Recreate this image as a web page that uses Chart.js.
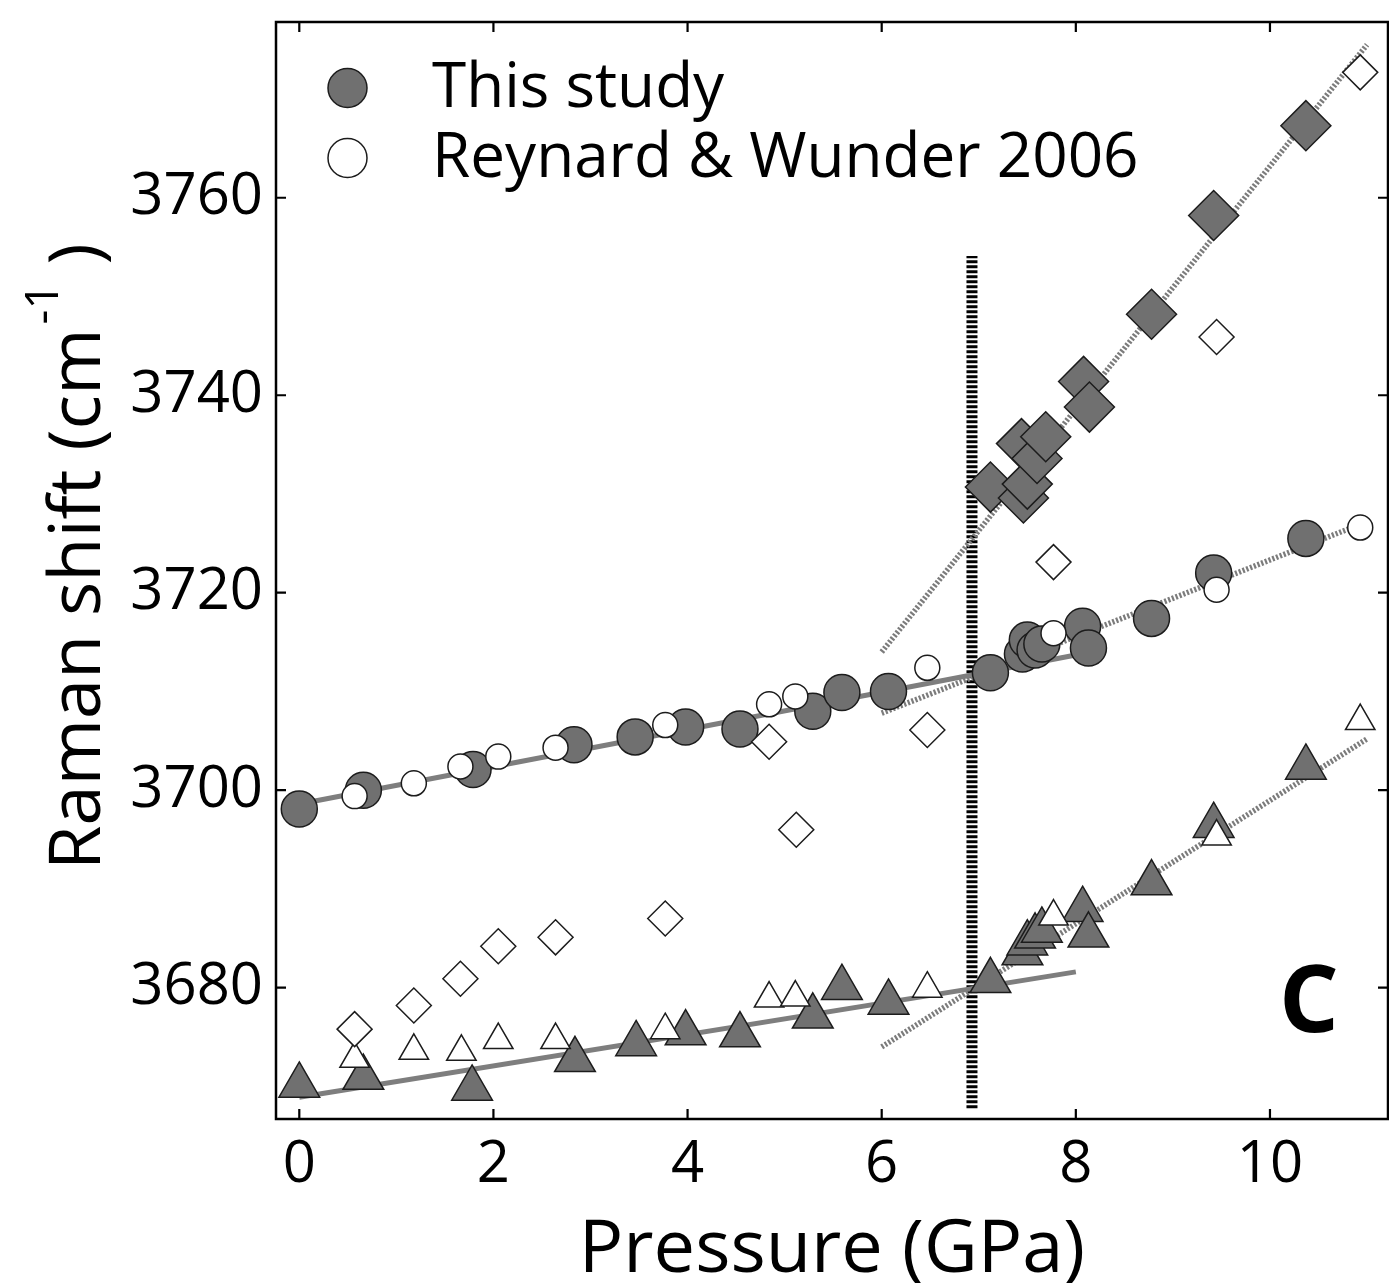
<!DOCTYPE html>
<html>
<head>
<meta charset="utf-8">
<script src="https://cdn.jsdelivr.net/npm/chart.js@4.4.1/dist/chart.umd.min.js"></script>
<style>
  html, body { margin: 0; padding: 0; background: #fff; }
  #wrap { width: 1389px; height: 1283px; }
</style>
</head>
<body>
<div id="wrap"><canvas id="chart" width="1389" height="1283"></canvas></div>
<script>
// axis ticks
const xTicks = [0, 2, 4, 6, 8, 10];
const yTicks = [3680, 3700, 3720, 3740, 3760];

// this study (filled symbols)
const studyCircP = [0.00, 0.66, 1.79, 2.83, 3.46, 3.98, 4.54, 5.29, 5.59, 6.07, 7.12, 7.45, 7.50, 7.58, 7.65, 8.07, 8.13, 8.78, 9.42, 10.37];
const studyCircV = [3698.1, 3700.0, 3702.1, 3704.6, 3705.4, 3706.4, 3706.2, 3708.0, 3709.9, 3710.0, 3711.9, 3713.8, 3715.2, 3714.2, 3714.8, 3716.6, 3714.4, 3717.4, 3722.0, 3725.5];
const studyDiamP = [7.12, 7.44, 7.46, 7.50, 7.60, 7.69, 8.08, 8.14, 8.78, 9.42, 10.37];
const studyDiamV = [3730.7, 3735.1, 3729.6, 3731.0, 3733.6, 3735.8, 3741.4, 3738.8, 3748.2, 3758.2, 3767.3];
const studyTriP = [0.00, 0.66, 1.78, 2.84, 3.47, 3.98, 4.54, 5.29, 5.59, 6.07, 7.12, 7.45, 7.50, 7.58, 7.65, 8.07, 8.13, 8.78, 9.42, 10.37];
const studyTriV = [3670.1, 3670.9, 3669.8, 3672.7, 3674.3, 3675.4, 3675.2, 3677.1, 3680.0, 3678.5, 3680.7, 3683.5, 3684.5, 3685.2, 3685.8, 3687.9, 3685.3, 3690.6, 3696.4, 3702.3];

// Reynard & Wunder 2006 (open symbols)
const rwCircP = [0.57, 1.18, 1.66, 2.05, 2.64, 3.77, 4.84, 5.11, 6.47, 7.77, 9.45, 10.93];
const rwCircV = [3699.4, 3700.7, 3702.4, 3703.4, 3704.3, 3706.6, 3708.7, 3709.5, 3712.4, 3715.9, 3720.3, 3726.6];
const rwDiamP = [0.57, 1.18, 1.66, 2.05, 2.64, 3.77, 4.84, 5.12, 6.47, 7.77, 9.45, 10.93];
const rwDiamV = [3675.8, 3678.2, 3680.9, 3684.2, 3685.1, 3687.0, 3704.9, 3696.0, 3706.1, 3723.1, 3745.9, 3772.7];
const rwTriP = [0.57, 1.18, 1.67, 2.05, 2.64, 3.77, 4.84, 5.11, 6.47, 7.77, 9.45, 10.93];
const rwTriV = [3672.8, 3673.6, 3673.5, 3674.7, 3674.7, 3675.7, 3678.9, 3679.0, 3679.9, 3687.2, 3695.3, 3707.0];

// fitted lines (end points)
const fitCircLowP = [0, 8],  fitCircLowV = [3698.6, 3713.7];
const fitCircHighP = [6, 11], fitCircHighV = [3707.8, 3727.2];
const fitDiamHighP = [6, 11], fitDiamHighV = [3714.0, 3775.5];
const fitTriLowP = [0, 8],   fitTriLowV = [3668.9, 3681.6];
const fitTriHighP = [6, 11], fitTriHighV = [3674.0, 3705.2];

// transition pressure marker
const transP = [6.93, 6.93], transV = [3667.8, 3754.1];

const legendLabels = ['This study', 'Reynard & Wunder 2006'];
const panelLabel = 'C';

const FILL = '#707070';
const EDGE = '#1c1c1c';
const LINE = '#7e7e7e';
const FONT = "'Open Sans', 'Noto Sans', sans-serif";

const pts = (xs, ys) => xs.map((x, i) => ({ x, y: ys[i] }));

function marks(label, xs, ys, style, r, filled) {
  return {
    label, data: pts(xs, ys), showLine: false,
    pointStyle: style, pointRadius: r, pointHoverRadius: r,
    pointBackgroundColor: filled ? FILL : '#ffffff',
    pointBorderColor: EDGE, pointBorderWidth: 1.5,
    order: filled ? 1 : 0,
  };
}

function fit(xs, ys, dotted) {
  return {
    data: pts(xs, ys), showLine: true, pointRadius: 0, pointHoverRadius: 0,
    borderColor: dotted ? '#7c7c7c' : LINE, borderWidth: dotted ? 5.5 : 5,
    borderDash: dotted ? [2.2, 1.8] : [], borderCapStyle: 'butt',
    order: 2,
  };
}

function noPad(s) {
  s.paddingTop = 0; s.paddingBottom = 0; s.paddingLeft = 0; s.paddingRight = 0;
}

const frame = {
  id: 'frame',
  afterDatasetsDraw(chart) {
    const { ctx, chartArea: a, scales: { x, y } } = chart;
    ctx.save();
    ctx.strokeStyle = '#000';
    ctx.lineWidth = 2.5;
    ctx.strokeRect(a.left, a.top, a.right - a.left, a.bottom - a.top);
    ctx.lineWidth = 2.2;
    ctx.beginPath();
    xTicks.forEach(v => {
      const px = x.getPixelForValue(v);
      ctx.moveTo(px, a.bottom); ctx.lineTo(px, a.bottom - 10);
      ctx.moveTo(px, a.top); ctx.lineTo(px, a.top + 10);
    });
    yTicks.forEach(v => {
      const py = y.getPixelForValue(v);
      ctx.moveTo(a.left, py); ctx.lineTo(a.left + 10, py);
      ctx.moveTo(a.right, py); ctx.lineTo(a.right - 10, py);
    });
    ctx.stroke();

    // legend (inside, top left)
    ctx.lineWidth = 1.5;
    ctx.strokeStyle = EDGE;
    [[88, FILL], [158, '#ffffff']].forEach(([cy, col]) => {
      ctx.beginPath();
      ctx.arc(a.left + 71.5, cy, 19.5, 0, Math.PI * 2);
      ctx.fillStyle = col; ctx.fill(); ctx.stroke();
    });
    ctx.fillStyle = '#000';
    ctx.font = `62px ${FONT}`;
    ctx.textAlign = 'left';
    ctx.textBaseline = 'alphabetic';
    ctx.fillText(legendLabels[0], a.left + 156, 107);
    ctx.fillText(legendLabels[1], a.left + 156, 177);

    // panel letter
    ctx.font = `bold 94px ${FONT}`;
    ctx.textAlign = 'center';
    ctx.textBaseline = 'middle';
    ctx.fillText(panelLabel, a.right - 79, 1005);

    // axis titles
    ctx.font = `74px ${FONT}`;
    ctx.textBaseline = 'alphabetic';
    ctx.fillText('Pressure (GPa)', (a.left + a.right) / 2, 1272);

    ctx.font = `72px ${FONT}`;
    ctx.translate(100, 870);
    ctx.rotate(-Math.PI / 2);
    ctx.textAlign = 'left';
    const t1 = 'Raman shift (cm';
    ctx.fillText(t1, 0, 0);
    let w = ctx.measureText(t1).width;
    ctx.font = `46px ${FONT}`;
    ctx.fillText('-1', w + 4, -42);
    w += 4 + ctx.measureText('-1').width;
    ctx.font = `72px ${FONT}`;
    ctx.fillText(' )', w, 0);
    ctx.restore();
  }
};

new Chart(document.getElementById('chart'), {
  type: 'scatter',
  data: {
    datasets: [
      marks('rw-circ', rwCircP, rwCircV, 'circle', 12.5, false),
      marks('rw-diam', rwDiamP, rwDiamV, 'rectRot', 17.5, false),
      marks('rw-tri', rwTriP, rwTriV, 'triangle', 17, false),
      marks('study-circ', studyCircP, studyCircV, 'circle', 18, true),
      marks('study-diam', studyDiamP, studyDiamV, 'rectRot', 25, true),
      marks('study-tri', studyTriP, studyTriV, 'triangle', 23.5, true),
      fit(fitCircLowP, fitCircLowV, false),
      fit(fitTriLowP, fitTriLowV, false),
      fit(fitCircHighP, fitCircHighV, true),
      fit(fitDiamHighP, fitDiamHighV, true),
      fit(fitTriHighP, fitTriHighV, true),
      {
        data: pts(transP, transV), showLine: true, pointRadius: 0,
        borderColor: '#000', borderWidth: 11, borderDash: [3, 2],
        borderCapStyle: 'butt', order: 2,
      },
    ],
  },
  options: {
    responsive: false,
    animation: false,
    devicePixelRatio: 1,
    events: [],
    layout: { autoPadding: false, padding: { top: 22, right: 1, left: 0, bottom: 0 } },
    plugins: { legend: { display: false }, tooltip: { enabled: false } },
    scales: {
      x: {
        type: 'linear', min: -0.24, max: 11.216,
        afterBuildTicks: s => { s.ticks = xTicks.map(v => ({ value: v })); },
        afterFit: s => { s.height = 164; noPad(s); },
        grid: { display: false, drawTicks: false },
        border: { display: false },
        ticks: { color: '#000', padding: 12, font: { family: FONT, size: 58 }, callback: v => String(v) },
      },
      y: {
        type: 'linear', min: 3666.7, max: 3777.8,
        afterBuildTicks: s => { s.ticks = yTicks.map(v => ({ value: v })); },
        afterFit: s => { s.width = 276; noPad(s); },
        grid: { display: false, drawTicks: false },
        border: { display: false },
        ticks: { color: '#000', padding: 13, font: { family: FONT, size: 58 }, callback: v => String(v) },
      },
    },
  },
  plugins: [frame],
});
</script>
</body>
</html>
